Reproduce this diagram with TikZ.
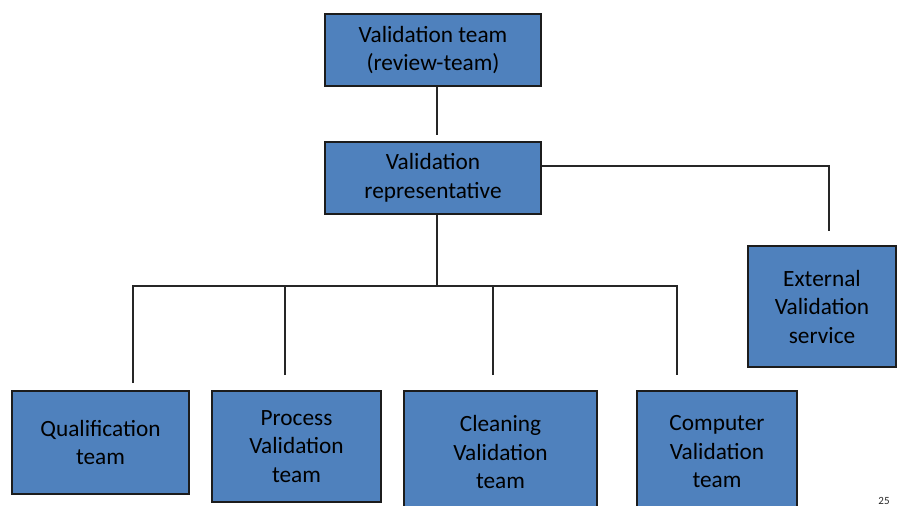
\documentclass[tikz,border=0pt]{standalone}
\usepackage{fontspec}
\setmainfont{Carlito}
\definecolor{unitfill}{HTML}{4F81BD}
\definecolor{unitline}{HTML}{1C1C1C}
\definecolor{wire}{HTML}{262626}

\begin{document}
\begin{tikzpicture}[%
      x=1pt, y=-1pt,
      every node/.style={align=center, inner sep=0pt,
                         font={\fontsize{23.3}{28.5}\selectfont}},
      unit/.style={draw=unitline, line width=1.5pt, fill=unitfill},
      link/.style={draw=wire, line width=1.5pt}
    ]
    \clip (0,0) rectangle (897,506);

    % boxes
    \node [unit, minimum width=216pt, minimum height=72pt] (review) at (433,50)
     {Validation team\\(review-team)};
    \node [unit, minimum width=216pt, minimum height=72pt] (rep) at (433,178)
     {Validation\\representative};
    \node [unit, minimum width=148pt, minimum height=121pt] (ext) at (822,306.5)
     {External\\Validation\\service};
    \node [unit, minimum width=177pt, minimum height=103pt] (qual) at (100.5,442.5)
     {Qualification\\team};
    \node [unit, minimum width=169pt, minimum height=111pt] (proc) at (296.5,446.5)
     {Process\\Validation\\team};
    \node [unit, minimum width=193pt, minimum height=122pt] (clean) at (500.5,452)
     {Cleaning\\Validation\\team};
    \node [unit, minimum width=160pt, minimum height=122pt] (comp) at (717,452)
     {Computer\\Validation\\team};

    % free ends of the wires
    \coordinate (repIn)   at (437,135);
    \coordinate (bus)     at (437,286);
    \coordinate (extTurn) at (829,166);
    \coordinate (extIn)   at (829,231);
    \coordinate (qualIn)  at (133,383);
    \coordinate (procIn)  at (285,375);
    \coordinate (cleanIn) at (493,375);
    \coordinate (compIn)  at (677,375);

    \draw [link] (review.south -| repIn) -- (repIn);
    \draw [link] (rep.south -| bus) -- (bus);
    \draw [link] (rep.east |- extTurn) -| (extIn);
    \draw [link] (qualIn) |- (bus) -| (compIn);
    \draw [link] (procIn) -- (procIn |- bus);
    \draw [link] (cleanIn) -- (cleanIn |- bus);

    \node [anchor=south, text=wire, font={\fontsize{11}{13}\selectfont}] (page) at (884,505) {25};
\end{tikzpicture}
\end{document}
